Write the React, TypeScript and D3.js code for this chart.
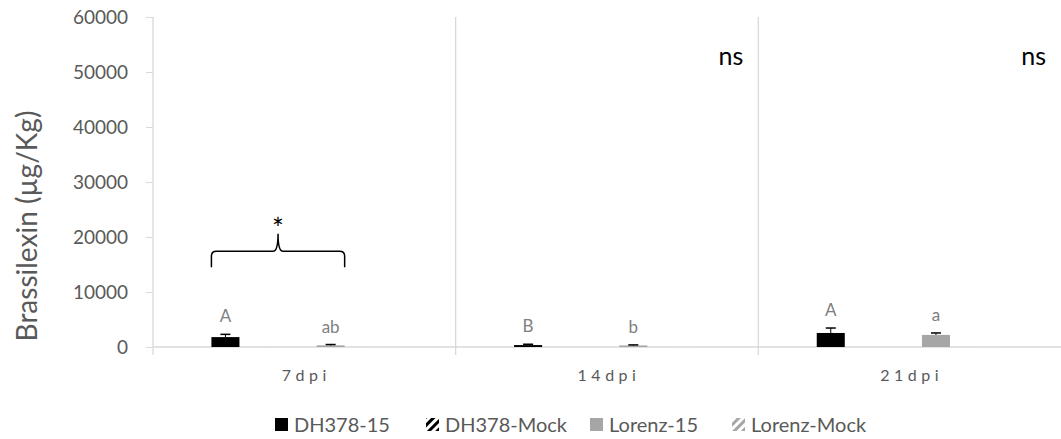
import React, { useEffect, useRef } from 'react';
import { select, scaleBand, scaleLinear, axisLeft, path } from 'd3';

const categories = ['7dpi', '14dpi', '21dpi'];
const seriesNames = ['DH378-15', 'DH378-Mock', 'Lorenz-15', 'Lorenz-Mock'];
// values per series, in order of categories
const dh15 = [1800, 350, 2550];
const dhMock = [50, 50, 50];
const lor15 = [300, 280, 2200];
const lorMock = [50, 50, 50];
const dh15Err = [500, 150, 900];
const lor15Err = [150, 100, 350];
const letters = [
  ['A', '', 'ab', ''],
  ['B', '', 'b', ''],
  ['A', '', 'a', ''],
];
const nsLabels = ['', 'ns', 'ns'];
const yTicks = [0, 10000, 20000, 30000, 40000, 50000, 60000];

const W = 1061;
const H = 439;
const FONT = 'Lato, "Open Sans", sans-serif';

function App() {
  const ref = useRef<SVGSVGElement>(null);

  useEffect(() => {
    const svg = select(ref.current);
    svg.selectAll('*').remove();

    const left = 153, right = 1061, top = 17, bottom = 347;
    const values = [dh15, dhMock, lor15, lorMock];
    const errs = [dh15Err, null, lor15Err, null];

    const x0 = scaleBand().domain(categories).range([left, right]).paddingInner(0.386).paddingOuter(0.193);
    const x1 = scaleBand().domain(seriesNames).range([0, x0.bandwidth()]).paddingInner(0.467);
    const y = scaleLinear().domain([0, 60000]).range([bottom, top]);

    const defs = svg.append('defs');
    const mkPattern = (id, color) => {
      const p = defs.append('pattern').attr('id', id).attr('patternUnits', 'userSpaceOnUse')
        .attr('width', 6).attr('height', 6).attr('patternTransform', 'rotate(45)');
      p.append('rect').attr('width', 6).attr('height', 6).attr('fill', '#fff');
      p.append('rect').attr('width', 3).attr('height', 6).attr('fill', color);
    };
    mkPattern('patDh', '#000');
    mkPattern('patLor', '#a6a6a6');
    const fills = ['#000', 'url(#patDh)', '#a6a6a6', 'url(#patLor)'];
    const barFills = ['#000', '#d9d9d9', '#a6a6a6', '#e6e6e6'];

    // y axis
    const yAxis = svg.append('g').attr('transform', `translate(${left},0)`)
      .call(axisLeft(y).tickValues(yTicks).tickSize(7).tickPadding(18).tickFormat(d => String(d)));
    yAxis.select('.domain').remove();
    yAxis.selectAll('line').attr('stroke', '#d9d9d9');
    yAxis.selectAll('text').attr('font-family', FONT).attr('font-size', 19).attr('fill', '#595959');

    // axis lines and category separators
    const grid = svg.append('g').attr('stroke', '#d9d9d9').attr('stroke-width', 1.3);
    grid.append('line').attr('x1', left).attr('x2', left).attr('y1', top).attr('y2', bottom + 8);
    grid.append('line').attr('x1', left).attr('x2', right).attr('y1', bottom).attr('y2', bottom);
    categories.slice(1).forEach(c => {
      const xs = x0(c) - (x0.step() - x0.bandwidth()) / 2;
      grid.append('line').attr('x1', xs).attr('x2', xs).attr('y1', top).attr('y2', bottom + 8);
    });

    // bars
    categories.forEach((c, ci) => {
      const g = svg.append('g').attr('transform', `translate(${x0(c)},0)`);
      seriesNames.forEach((s, si) => {
        const v = values[si][ci];
        const bx = x1(s);
        const bw = x1.bandwidth();
        g.append('rect').attr('x', bx).attr('y', y(v)).attr('width', bw)
          .attr('height', y(0) - y(v)).attr('fill', barFills[si]);
        const e = errs[si];
        if (e) {
          const cx = bx + bw / 2;
          g.append('line').attr('x1', cx).attr('x2', cx).attr('y1', y(v)).attr('y2', y(v + e[ci]))
            .attr('stroke', '#000').attr('stroke-width', 1);
          g.append('line').attr('x1', cx - 5).attr('x2', cx + 5).attr('y1', y(v + e[ci])).attr('y2', y(v + e[ci]))
            .attr('stroke', '#000').attr('stroke-width', 1.5);
        }
        const lab = letters[ci][si];
        if (lab) {
          const topVal = v + (e ? e[ci] : 0);
          g.append('text').attr('x', bx + bw / 2).attr('y', y(topVal) - 12)
            .attr('text-anchor', 'middle').attr('font-family', FONT).attr('font-size', 17)
            .attr('fill', '#808080').text(lab);
        }
      });
      if (nsLabels[ci]) {
        svg.append('text').attr('x', x0(c) + x0.bandwidth() + 31).attr('y', 65)
          .attr('text-anchor', 'middle').attr('font-family', FONT).attr('font-size', 25)
          .attr('fill', '#000').text(nsLabels[ci]);
      }
    });

    // significance brace over 7dpi
    const bx0 = x0(categories[0]) + x1(seriesNames[0]);
    const bx1 = x0(categories[0]) + x1(seriesNames[2]) + x1.bandwidth();
    const mid = (bx0 + bx1) / 2;
    const yb = y(17400), ye = y(14500), yc = y(20600);
    const p = path();
    p.moveTo(bx0, ye);
    p.lineTo(bx0, yb + 5);
    p.quadraticCurveTo(bx0, yb, bx0 + 5, yb);
    p.lineTo(mid - 5, yb);
    p.quadraticCurveTo(mid, yb, mid, yc);
    p.quadraticCurveTo(mid, yb, mid + 5, yb);
    p.lineTo(bx1 - 5, yb);
    p.quadraticCurveTo(bx1, yb, bx1, yb + 5);
    p.lineTo(bx1, ye);
    svg.append('path').attr('d', p.toString()).attr('fill', 'none').attr('stroke', '#000').attr('stroke-width', 1.5);
    svg.append('text').attr('x', mid).attr('y', yc + 5).attr('text-anchor', 'middle')
      .attr('font-family', FONT).attr('font-size', 28).attr('fill', '#000').text('*');

    // x labels
    categories.forEach(c => {
      svg.append('text').attr('x', x0(c) + x0.bandwidth() / 2 + 2).attr('y', 381)
        .attr('text-anchor', 'middle').attr('font-family', FONT).attr('font-size', 16)
        .attr('letter-spacing', 4.5).attr('fill', '#595959').text(c);
    });

    // y title
    svg.append('text').attr('transform', 'translate(37,226) rotate(-90)')
      .attr('text-anchor', 'middle').attr('font-family', FONT).attr('font-size', 28)
      .attr('fill', '#595959').text('Brassilexin (µg/Kg)');

    // legend
    const legendX = [275, 426, 590, 732];
    const lg = svg.append('g').attr('transform', 'translate(0,425)');
    seriesNames.forEach((s, i) => {
      lg.append('rect').attr('x', legendX[i]).attr('y', -7).attr('width', 13).attr('height', 13).attr('fill', fills[i]);
      lg.append('text').attr('x', legendX[i] + 19).attr('y', 7).attr('font-family', FONT)
        .attr('font-size', 20).attr('fill', '#595959').text(s);
    });
  }, []);

  return (
    <svg ref={ref} width={W} height={H} style={{ position: 'absolute', left: 0, top: 0, background: '#fff' }} />
  );
}

export default App;
